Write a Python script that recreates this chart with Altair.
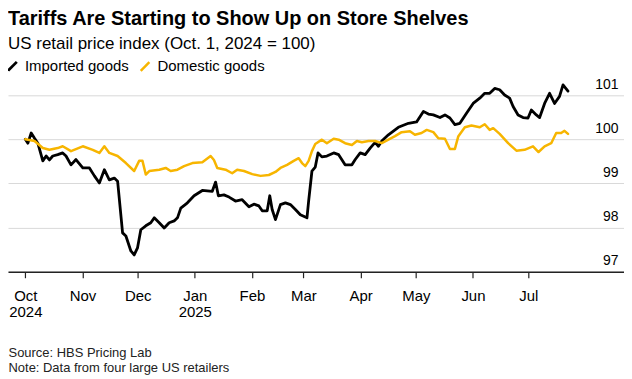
import altair as alt
import pandas as pd

# Day offsets from Oct 1, 2024 and index values
imported_days = [0, 1.4, 3.2, 5.0, 6.8, 9.5, 11.3, 13.1, 14.9, 17.6, 20.3, 22.1, 24.8, 27.5, 31.2, 34.8,
                 37.5, 40.2, 42.9, 45.6, 48.3, 50.1, 52.8, 54.6, 57.3, 59.1, 60.9, 62.7, 65.4, 68.1, 70.0,
                 72.7, 75.4, 78.1, 80.8, 82.6, 84.4, 88.0, 91.6, 96.1, 101.5, 103.3, 104.8, 107.8, 110.6,
                 114.1, 117.7, 121.4, 124.1, 126.8, 128.6, 131.3, 132.7, 134.0, 135.8, 138.5, 141.2, 143.9,
                 146.6, 149.3, 152.9, 153.8, 155.6, 157.4, 158.9, 161.0, 163.7, 167.4, 170.1, 173.6, 177.3,
                 179.1, 181.8, 184.5, 187.2, 189.9, 191.7, 193.5, 197.1, 202.5, 208.0, 212.4, 216.1, 218.8,
                 221.5, 225.1, 227.8, 230.5, 233.2, 235.9, 239.5, 243.1, 246.7, 249.4, 252.1, 254.8, 257.5,
                 260.2, 262.9, 264.8, 267.5, 270.2, 272.9, 274.7, 277.4, 279.2, 281.9, 284.6, 287.3, 290.0,
                 291.9, 294.6]
imported_vals = [100.00, 99.91, 100.14, 100.02, 99.91, 99.51, 99.62, 99.53, 99.62, 99.65, 99.69, 99.62,
                 99.42, 99.54, 99.35, 99.35, 99.17, 99.01, 99.31, 99.08, 99.12, 99.05, 97.88, 97.81, 97.47,
                 97.38, 97.54, 97.95, 98.04, 98.11, 98.22, 98.11, 97.99, 98.11, 98.15, 98.22, 98.44, 98.56,
                 98.72, 98.84, 98.82, 99.03, 98.72, 98.74, 98.69, 98.60, 98.63, 98.47, 98.53, 98.49, 98.38,
                 98.38, 98.72, 98.41, 98.18, 98.52, 98.56, 98.52, 98.41, 98.29, 98.22, 98.60, 99.28, 99.37,
                 99.69, 99.60, 99.62, 99.69, 99.65, 99.42, 99.42, 99.54, 99.69, 99.65, 99.80, 99.93, 99.84,
                 99.96, 100.10, 100.27, 100.36, 100.39, 100.63, 100.57, 100.55, 100.49, 100.55, 100.48,
                 100.33, 100.36, 100.59, 100.81, 100.93, 101.04, 101.04, 101.15, 101.12, 101.00, 100.93,
                 100.74, 100.55, 100.49, 100.48, 100.66, 100.55, 100.49, 100.81, 101.04, 100.81, 100.97,
                 101.23, 101.09]

domestic_days = [0, 5.0, 9.5, 13.1, 17.6, 20.3, 24.8, 31.2, 36.6, 40.2, 42.9, 45.6, 50.1, 54.6, 59.1,
                 61.8, 63.6, 65.4, 67.3, 72.7, 76.2, 78.9, 82.6, 86.2, 90.7, 96.1, 100.6, 102.4, 104.2,
                 108.7, 112.3, 115.0, 118.7, 123.2, 127.7, 132.2, 135.8, 138.5, 142.1, 145.7, 148.4, 150.2,
                 152.0, 153.8, 155.6, 157.4, 161.0, 163.7, 167.4, 170.1, 173.6, 177.3, 180.0, 182.7, 186.3,
                 189.9, 193.5, 197.1, 200.7, 204.3, 208.8, 211.5, 215.1, 217.9, 221.5, 224.2, 227.8, 230.5,
                 233.2, 235.0, 238.6, 242.2, 246.7, 249.4, 252.1, 254.0, 257.5, 262.1, 266.6, 271.0, 275.6,
                 278.6, 281.9, 285.5, 288.2, 290.9, 292.7, 294.6]
domestic_vals = [100.00, 99.96, 99.80, 99.76, 99.80, 99.84, 99.73, 99.84, 99.76, 99.69, 99.84, 99.69,
                 99.62, 99.46, 99.28, 99.51, 99.51, 99.20, 99.28, 99.31, 99.35, 99.28, 99.31, 99.39, 99.46,
                 99.48, 99.62, 99.53, 99.35, 99.31, 99.23, 99.31, 99.28, 99.21, 99.17, 99.19, 99.26, 99.35,
                 99.42, 99.51, 99.57, 99.46, 99.39, 99.51, 99.73, 99.89, 99.99, 99.91, 100.01, 99.99, 99.91,
                 99.87, 99.96, 99.93, 99.96, 99.96, 99.91, 99.99, 100.07, 100.16, 100.18, 100.10, 100.14,
                 100.21, 100.16, 100.02, 100.01, 99.78, 99.78, 100.06, 100.27, 100.31, 100.27, 100.34,
                 100.21, 100.25, 100.12, 99.91, 99.74, 99.76, 99.84, 99.71, 99.84, 99.91, 100.14, 100.14,
                 100.19, 100.12]

series_names = ["Imported goods", "Domestic goods"]
series_colors = ["#000000", "#F7B500"]
y_ticks = [97, 98, 99, 100, 101]
month_ticks = [(2024, 10), (2024, 11), (2024, 12), (2025, 1), (2025, 2), (2025, 3),
               (2025, 4), (2025, 5), (2025, 6), (2025, 7)]

base = pd.Timestamp("2024-10-01")


def frame(days, vals, name):
    return pd.DataFrame({
        "date": [base + pd.Timedelta(days=d) for d in days],
        "value": vals,
        "series": name,
    })


df = pd.concat([frame(imported_days, imported_vals, series_names[0]),
                frame(domestic_days, domestic_vals, series_names[1])], ignore_index=True)

x_domain = [(base - pd.Timedelta(days=9.4)).isoformat(), (base + pd.Timedelta(days=325)).isoformat()]

label_expr = ("[timeFormat(datum.value, '%b'), "
              "(month(datum.value) == 0 || (month(datum.value) == 9 && year(datum.value) == 2024)) "
              "? timeFormat(datum.value, '%Y') : '']")

chart = alt.Chart(df).mark_line(strokeJoin="round", strokeCap="round").encode(
    x=alt.X("date:T",
            scale=alt.Scale(domain=x_domain),
            axis=alt.Axis(values=[alt.DateTime(year=y, month=m, date=1) for y, m in month_ticks],
                          labelExpr=label_expr, grid=False,
                          domainColor="#222222", domainWidth=1.5,
                          tickColor="#222222", tickSize=6, tickWidth=1.2,
                          labelFontSize=15, labelColor="#000000", labelPadding=11, labelLineHeight=16,
                          title=["Source: HBS Pricing Lab", "Note: Data from four large US retailers"],
                          titleAnchor="start", titleAlign="left", titleFontSize=13,
                          titleFontWeight="normal", titleColor="#222222", titlePadding=27,
                          titleLineHeight=15)),
    y=alt.Y("value:Q",
            scale=alt.Scale(domain=[97, 101.4], nice=False, zero=False),
            axis=alt.Axis(orient="right", values=y_ticks, grid=True, gridColor="#d9d9d9", gridWidth=1,
                          domain=False, ticks=False, tickSize=0,
                          labelAlign="right", labelBaseline="alphabetic", labelOffset=-7,
                          labelPadding=-6, labelFontSize=14, labelColor="#000000", title=None)),
    color=alt.Color("series:N",
                    scale=alt.Scale(domain=series_names, range=series_colors),
                    legend=alt.Legend(title=None, orient="none", legendX=0, legendY=-19,
                                      direction="horizontal", symbolType="M-1,1L1,-1",
                                      symbolSize=75, symbolStrokeWidth=2.6, symbolOffset=-3,
                                      labelFontSize=15, labelColor="#000000", labelOffset=5,
                                      columnPadding=6, padding=0)),
    strokeWidth=alt.StrokeWidth("series:N",
                                scale=alt.Scale(domain=series_names, range=[2.8, 2.5]),
                                legend=None),
).properties(
    width=618,
    height=195,
    padding=0,
    title=alt.TitleParams(text="Tariffs Are Starting to Show Up on Store Shelves",
                          subtitle="US retail price index (Oct. 1, 2024 = 100)",
                          anchor="start", frame="group", fontSize=20, fontWeight="bold",
                          color="#000000", subtitleFontSize=17, subtitleColor="#000000",
                          subtitlePadding=8, offset=6),
).configure(font="Liberation Sans").configure_view(stroke=None)

chart.save("out.html", embed_options={"renderer": "svg", "actions": False})
